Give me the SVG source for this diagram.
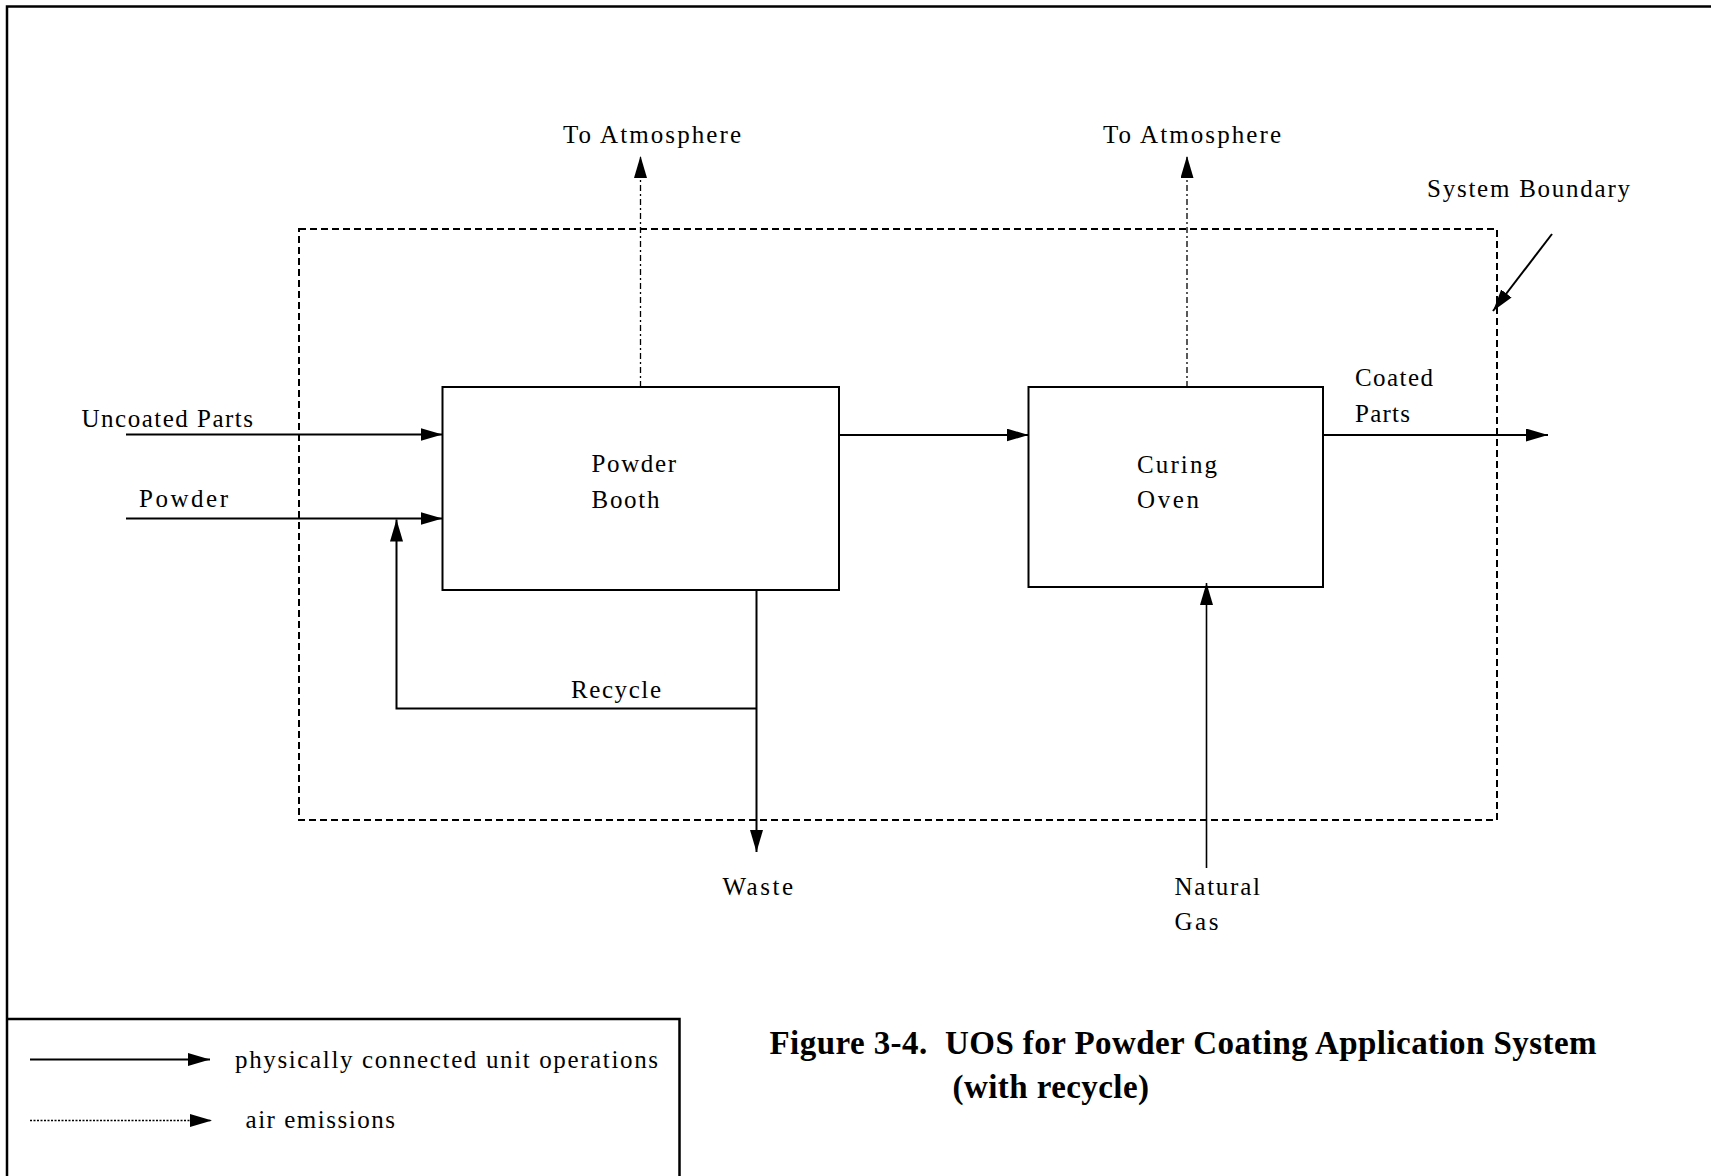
<svg xmlns="http://www.w3.org/2000/svg" width="1711" height="1176" viewBox="0 0 1711 1176">
<style>
  text { font-family: "Liberation Serif", "Times New Roman", serif; font-size: 25px; fill: #000; }
  .title { font-weight: bold; font-size: 33px; }
  .box { fill: #fff; stroke: #000; stroke-width: 2; }
  .flow { fill: none; stroke: #000; stroke-width: 2; }
  .air { fill: none; stroke: #000; stroke-width: 1.3; stroke-dasharray: 6 3 2 3; }
  .bound { fill: none; stroke: #000; stroke-width: 2; stroke-dasharray: 7 4; }
  .frame { fill: none; stroke: #000; stroke-width: 2.5; }
</style>
<defs>
  <marker id="ah" markerUnits="userSpaceOnUse" markerWidth="24" markerHeight="14" refX="22" refY="6.5" orient="auto">
    <path d="M0,0 L22,6.5 L0,13 z" fill="#000"/>
  </marker>
</defs>
<rect width="1711" height="1176" fill="#fff"/>

<g id="frame">
  <path class="frame" d="M7,1176 L7,6.5 L1711,6.5"/>
</g>

<g id="system-boundary">
  <rect class="bound" x="299" y="229" width="1198" height="591"/>
  <text x="1427" y="197" textLength="203" lengthAdjust="spacing">System Boundary</text>
</g>

<g id="powder-booth">
  <rect class="box" x="442.5" y="387" width="396.5" height="203"/>
  <text x="591.5" y="472" textLength="84.5" lengthAdjust="spacing">Powder</text>
  <text x="591.5" y="508" textLength="68" lengthAdjust="spacing">Booth</text>
</g>

<g id="curing-oven">
  <rect class="box" x="1028.5" y="387" width="294.5" height="200"/>
  <text x="1137" y="473" textLength="80" lengthAdjust="spacing">Curing</text>
  <text x="1137" y="508" textLength="62" lengthAdjust="spacing">Oven</text>
</g>

<g id="connectors">
  <line class="flow" x1="126" y1="434.5" x2="442.5" y2="434.5" marker-end="url(#ah)"/>
  <line class="flow" x1="126" y1="518.5" x2="442.5" y2="518.5" marker-end="url(#ah)"/>
  <line class="flow" x1="839" y1="435" x2="1028.5" y2="435" marker-end="url(#ah)"/>
  <line class="flow" x1="1323" y1="435" x2="1548" y2="435" marker-end="url(#ah)"/>
  <polyline class="flow" points="756.5,708.5 396.5,708.5 396.5,519.5" marker-end="url(#ah)"/>
  <line class="flow" x1="756.5" y1="589" x2="756.5" y2="852" marker-end="url(#ah)"/>
  <line class="flow" x1="1206.5" y1="868" x2="1206.5" y2="583" marker-end="url(#ah)" style="stroke-width:1.6"/>
  <line class="air" x1="640.5" y1="387" x2="640.5" y2="156" marker-end="url(#ah)"/>
  <line class="air" x1="1187" y1="387" x2="1187" y2="156" marker-end="url(#ah)"/>
  <line class="flow" x1="1552" y1="234" x2="1493" y2="311" marker-end="url(#ah)"/>
</g>

<g id="labels">
  <text x="563" y="143" textLength="178" lengthAdjust="spacing">To Atmosphere</text>
  <text x="1103" y="143" textLength="178" lengthAdjust="spacing">To Atmosphere</text>
  <text x="81.5" y="427" textLength="171.5" lengthAdjust="spacing">Uncoated Parts</text>
  <text x="139" y="507" textLength="89" lengthAdjust="spacing">Powder</text>
  <text x="571" y="698" textLength="90" lengthAdjust="spacing">Recycle</text>
  <text x="1355" y="386" textLength="78" lengthAdjust="spacing">Coated</text>
  <text x="1355" y="422" textLength="55" lengthAdjust="spacing">Parts</text>
  <text x="722.5" y="895" textLength="70.5" lengthAdjust="spacing">Waste</text>
  <text x="1174.5" y="895" textLength="85.5" lengthAdjust="spacing">Natural</text>
  <text x="1174.5" y="930" textLength="44" lengthAdjust="spacing">Gas</text>
</g>

<g id="legend">
  <path class="frame" d="M7,1019 L679.5,1019 L679.5,1176"/>
  <line class="flow" x1="30" y1="1059.5" x2="210" y2="1059.5" marker-end="url(#ah)"/>
  <line x1="30" y1="1120.5" x2="212" y2="1120.5" stroke="#000" stroke-width="1.6" stroke-dasharray="2 1.5" marker-end="url(#ah)"/>
  <text x="235" y="1068" textLength="423" lengthAdjust="spacing">physically connected unit operations</text>
  <text x="245.5" y="1128" textLength="149.5" lengthAdjust="spacing">air emissions</text>
</g>

<g id="title">
  <text class="title" x="769.5" y="1054" textLength="827" lengthAdjust="spacing" xml:space="preserve">Figure 3-4.  UOS for Powder Coating Application System</text>
  <text class="title" x="952.5" y="1098" textLength="196.5" lengthAdjust="spacing">(with recycle)</text>
</g>
</svg>
